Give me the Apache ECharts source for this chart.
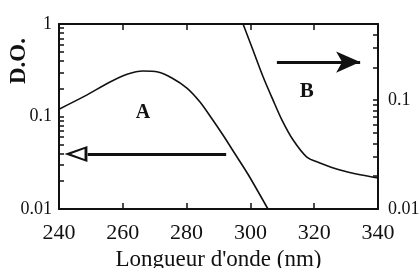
<!DOCTYPE html>
<html>
<head>
<meta charset="utf-8">
<script src="https://cdn.jsdelivr.net/npm/echarts@6/dist/echarts.min.js"></script>
<style>
  html, body { margin: 0; padding: 0; background: #fff; }
  #chart { width: 420px; height: 268px; }
</style>
</head>
<body>
<div id="chart"></div>
<script>
// wavelength (nm) and optical density
var wlA = [240, 248.2, 256, 261.6, 266.3, 271, 275.4, 280.1, 284.2, 288, 291.4, 295.2, 299.2, 305.5];
var odA = [0.12, 0.167, 0.236, 0.288, 0.31, 0.303, 0.261, 0.203, 0.1435, 0.094, 0.063, 0.0393, 0.0239, 0.01];
var wlB = [297.7, 300.8, 304, 307.1, 309.9, 313.4, 317.7, 321.8, 328.1, 334.4, 340];
var odB = [0.5, 0.288, 0.163, 0.100, 0.0656, 0.043, 0.030, 0.0265, 0.0228, 0.0206, 0.0193];

var xTicks = [240, 260, 280, 300, 320, 340];
var leftLabels = [0.01, 0.1, 1];
var leftTicks = [0.01, 0.02, 0.03, 0.04, 0.05, 0.06, 0.07, 0.08, 0.09, 0.1,
                 0.2, 0.3, 0.4, 0.5, 0.6, 0.7, 0.8, 0.9, 1];
var rightLabels = [0.01, 0.1];
var rightTicks = [0.01, 0.02, 0.03, 0.04, 0.05, 0.06, 0.07, 0.08, 0.09, 0.1,
                  0.2, 0.3, 0.4];

function pairs(xs, ys) {
  return xs.map(function (x, i) { return [x, ys[i]]; });
}

var chartDom = document.getElementById('chart');
var myChart = echarts.init(chartDom);
var serif = 'Liberation Serif';
var ink = '#111';

// invisible marker that only carries a text label
function tag(coord, text, size) {
  return {
    coord: coord, symbol: 'rect', symbolSize: 20,
    itemStyle: { color: 'rgba(0,0,0,0)' },
    label: { show: true, position: 'inside', formatter: text, fontFamily: serif,
             fontWeight: 'bold', fontSize: size, color: ink }
  };
}

var option = {
  animation: false,
  grid: { left: 59, right: 42, top: 24, bottom: 59,
          containLabel: false, outerBoundsMode: 'none' },
  xAxis: [
    {
      type: 'value', min: 240, max: 340, interval: 20,
      name: "Longueur d'onde (nm)", nameLocation: 'middle', nameGap: 39,
      nameTextStyle: { fontFamily: serif, fontSize: 23, color: ink },
      axisLine: { lineStyle: { color: ink, width: 2 } },
      axisTick: { inside: true, length: 6, lineStyle: { color: ink, width: 1.5 } },
      axisLabel: { margin: 13, fontFamily: serif, fontSize: 22, color: ink,
                   customValues: xTicks },
      splitLine: { show: false }
    },
    {
      type: 'value', position: 'top', min: 240, max: 340, interval: 20,
      axisLine: { lineStyle: { color: ink, width: 2 } },
      axisTick: { inside: true, length: 6, lineStyle: { color: ink, width: 1.5 } },
      axisLabel: { show: false },
      splitLine: { show: false }
    }
  ],
  yAxis: [
    {
      type: 'log', logBase: 10, min: 0.01, max: 1,
      axisLine: { show: true, lineStyle: { color: ink, width: 2 } },
      axisTick: { inside: true, length: 5, customValues: leftTicks,
                  lineStyle: { color: ink, width: 1.5 } },
      axisLabel: { margin: 7, fontFamily: serif, fontSize: 18, color: ink,
                   customValues: leftLabels,
                   formatter: function (v) { return String(+v.toPrecision(2)); } },
      splitLine: { show: false }
    },
    {
      type: 'log', logBase: 10, min: 0.01, max: 0.5, position: 'right',
      axisLine: { show: true, lineStyle: { color: ink, width: 2 } },
      axisTick: { inside: true, length: 5, customValues: rightTicks,
                  lineStyle: { color: ink, width: 1.5 } },
      axisLabel: { margin: 10, fontFamily: serif, fontSize: 18, color: ink,
                   customValues: rightLabels,
                   formatter: function (v) { return String(+v.toPrecision(2)); } },
      splitLine: { show: false }
    }
  ],
  graphic: [
    {
      type: 'text', left: 8, top: 38,
      rotation: Math.PI / 2,
      style: { text: 'D.O.', font: 'bold 23px "Liberation Serif"', fill: ink }
    }
  ],
  series: [
    {
      name: 'A', type: 'line', xAxisIndex: 0, yAxisIndex: 0,
      data: pairs(wlA, odA), smooth: 0.3, showSymbol: false,
      lineStyle: { color: ink, width: 1.6 },
      markPoint: {
        silent: true,
        data: [
          tag([266.3, 0.109], 'A', 20),
          { coord: [245.3, 0.0393], symbol: 'path://M10,0 L20,24 L0,24 Z M10,7 L3.8,21 L16.2,21 Z',
            symbolSize: [16, 23], symbolRotate: 90,
            itemStyle: { color: ink }, label: { show: false } }
        ]
      },
      markLine: {
        silent: true, symbol: ['none', 'none'],
        lineStyle: { color: ink, width: 3, type: 'solid' },
        label: { show: false },
        data: [[{ coord: [292.4, 0.0393] }, { coord: [249, 0.0393] }]]
      }
    },
    {
      name: 'B', type: 'line', xAxisIndex: 0, yAxisIndex: 1,
      data: pairs(wlB, odB), smooth: 0.3, showSymbol: false,
      lineStyle: { color: ink, width: 1.6 },
      markPoint: {
        silent: true,
        data: [tag([317.7, 0.1186], 'B', 21)]
      },
      markLine: {
        silent: true, symbol: ['none', 'arrow'], symbolSize: [16, 24],
        lineStyle: { color: ink, width: 3, type: 'solid' },
        itemStyle: { color: ink },
        label: { show: false },
        data: [[{ coord: [308.3, 0.2235] }, { coord: [334.4, 0.2235] }]]
      }
    }
  ]
};

option && myChart.setOption(option);
</script>
</body>
</html>
